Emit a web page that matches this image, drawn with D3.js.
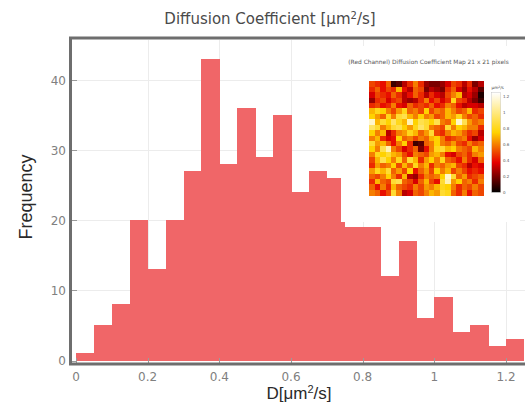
<!DOCTYPE html>
<html>
<head>
<meta charset="utf-8">
<script src="https://cdn.jsdelivr.net/npm/d3@7"></script>
<style>
  html, body { margin: 0; padding: 0; background: #fff; }
  svg { display: block; }
</style>
</head>
<body>
<svg id="chart" width="525" height="407"></svg>
<script>
// Histogram of per-pixel diffusion coefficients (bin width 0.05 µm²/s)
const binStarts = [0, 0.05, 0.1, 0.15, 0.2, 0.25, 0.3, 0.35, 0.4, 0.45, 0.5, 0.55,
                   0.6, 0.65, 0.7, 0.75, 0.8, 0.85, 0.9, 0.95, 1.0, 1.05, 1.1, 1.15, 1.2];
const binWidth = 0.05;
const counts = [1, 5, 8, 20, 13, 20, 27, 43, 28, 36, 29, 35,
                24, 27, 26, 19, 19, 12, 17, 6, 9, 4, 5, 2, 3];
const xTicks = [0, 0.2, 0.4, 0.6, 0.8, 1, 1.2];
const yTicks = [0, 10, 20, 30, 40];

// 21 x 21 diffusion coefficient map (µm²/s), rows top to bottom
const mapRows = [
  [0.50,0.45,0.40,0.55,0.10,0.15,0.30,0.45,0.60,0.45,0.25,0.20,0.20,0.25,0.35,0.50,0.45,0.30,0.45,0.20,0.30],
  [0.45,0.55,0.40,0.50,0.45,0.70,0.40,0.30,0.55,0.50,0.20,0.30,0.25,0.20,0.45,0.55,0.35,0.25,0.40,0.30,0.15],
  [0.35,0.50,0.45,0.40,0.55,0.45,0.30,0.40,0.55,0.45,0.30,0.45,0.35,0.30,0.50,0.60,0.70,0.30,0.35,0.25,0.05],
  [0.25,0.45,0.50,0.35,0.45,0.50,0.30,0.25,0.30,0.45,0.60,0.40,0.50,0.35,0.45,0.80,0.50,0.45,0.30,0.20,0.10],
  [0.45,0.50,0.40,0.45,0.60,0.40,0.35,0.55,0.45,0.50,0.45,0.55,0.40,0.45,0.60,0.55,0.40,0.30,0.35,0.35,0.30],
  [0.70,0.80,0.75,0.60,0.50,0.65,0.80,0.55,0.60,0.50,0.75,0.50,0.60,0.55,0.70,0.60,0.50,0.55,0.70,0.45,0.50],
  [0.75,0.65,0.55,0.80,0.60,0.85,0.90,0.70,0.60,0.75,0.60,0.65,0.50,0.55,0.70,0.65,0.80,0.60,0.50,0.55,0.45],
  [1.15,0.70,0.85,0.75,0.95,0.80,0.70,1.10,0.75,0.90,0.85,0.75,0.90,0.60,0.55,0.75,1.15,0.90,0.65,0.55,0.60],
  [0.95,0.85,0.60,0.70,0.85,0.90,0.75,0.65,0.80,0.95,0.85,0.60,0.55,0.50,0.85,0.60,0.75,0.70,0.60,0.60,0.45],
  [0.75,0.60,0.70,0.30,0.45,0.60,0.65,0.80,0.70,0.55,0.65,0.85,0.50,0.45,0.60,0.70,0.65,0.55,0.45,0.50,0.30],
  [0.60,0.70,0.45,0.35,0.40,0.75,0.55,0.60,0.50,0.60,0.55,0.70,0.75,0.60,0.45,0.50,0.55,0.60,0.40,0.25,0.35],
  [0.85,0.65,0.70,0.55,0.40,0.60,0.75,0.45,0.10,0.15,0.55,0.60,0.75,0.60,0.55,0.65,0.50,0.45,0.60,0.50,0.55],
  [0.75,0.60,0.90,1.10,0.60,0.50,0.35,0.45,0.55,0.20,0.40,0.60,0.80,0.85,0.70,0.75,0.60,0.55,0.50,0.70,0.60],
  [0.60,0.80,0.75,0.85,0.70,0.65,0.50,0.40,0.60,0.55,0.50,0.65,0.70,0.60,0.40,0.35,0.50,0.55,0.45,0.60,0.65],
  [0.50,0.70,0.90,0.75,0.60,0.80,0.55,0.85,0.70,0.45,0.65,0.75,0.60,0.80,0.55,0.50,0.40,0.60,0.45,0.35,0.55],
  [0.45,0.65,0.55,0.60,0.75,0.50,0.70,0.55,0.80,0.60,0.70,0.45,0.60,0.55,0.65,0.70,0.50,0.45,0.30,0.40,0.35],
  [0.65,0.80,0.70,0.85,0.55,0.65,0.50,0.75,0.40,0.55,0.65,0.50,0.75,0.60,0.70,0.50,0.60,0.50,0.40,0.45,0.40],
  [0.55,0.50,0.60,0.75,0.60,0.45,0.70,0.30,0.25,0.45,0.60,0.55,0.60,0.75,1.15,0.85,0.55,0.65,0.45,0.50,0.55],
  [0.45,0.70,0.55,0.50,0.85,0.90,0.55,0.50,0.35,0.55,0.70,0.50,0.40,0.85,1.10,0.65,0.75,0.55,0.60,0.45,0.60],
  [0.55,0.40,0.60,0.45,0.70,0.55,0.50,0.45,0.60,0.50,0.65,0.60,0.70,0.80,0.75,0.60,0.45,0.55,0.50,0.60,0.50],
  [0.60,0.55,0.40,0.50,0.85,0.60,0.30,0.35,0.55,0.50,0.60,0.70,0.65,0.85,0.80,0.55,0.45,0.60,0.40,0.55,0.50]
];
const colorbarTicks = [0, 0.2, 0.4, 0.6, 0.8, 1, 1.2];
const colorMax = 1.25;

const svg = d3.select("#chart");
const font = "'DejaVu Sans', Verdana, sans-serif";

// Main plot scales
const x = d3.scaleLinear().domain([0, 1.2]).range([76, 506]);
const y = d3.scaleLinear().domain([0, 40]).range([360.5, 80]);

// Grid
const grid = svg.append("g").attr("stroke", "#ececec").attr("stroke-width", 1);
grid.selectAll("line.v").data(xTicks.filter(d => d > 0)).join("line")
  .attr("x1", d => Math.round(x(d)) + 0.5).attr("x2", d => Math.round(x(d)) + 0.5)
  .attr("y1", 40).attr("y2", 361);
grid.selectAll("line.h").data(yTicks.filter(d => d > 0)).join("line")
  .attr("x1", 72).attr("x2", 525)
  .attr("y1", d => Math.round(y(d)) + 0.5).attr("y2", d => Math.round(y(d)) + 0.5);

// Histogram bars
svg.append("g").attr("shape-rendering", "crispEdges")
  .selectAll("rect").data(binStarts).join("rect")
  .attr("x", d => x(d))
  .attr("width", d => x(d + binWidth) - x(d) + 0.5)
  .attr("y", (d, i) => y(counts[i]))
  .attr("height", (d, i) => y(0) - y(counts[i]))
  .attr("fill", "#f06668");

// Tick marks
const ticks = svg.append("g").attr("stroke", "#9a9a9a").attr("stroke-width", 1);
ticks.selectAll("line.x").data(xTicks).join("line")
  .attr("x1", d => Math.round(x(d)) + 0.5).attr("x2", d => Math.round(x(d)) + 0.5)
  .attr("y1", 358).attr("y2", 363);
ticks.selectAll("line.y").data(yTicks).join("line")
  .attr("x1", 72).attr("x2", 77)
  .attr("y1", d => Math.round(y(d)) + 0.5).attr("y2", d => Math.round(y(d)) + 0.5);

// Frame
svg.append("rect")
  .attr("x", 70.5).attr("y", 38).attr("width", 480).attr("height", 326)
  .attr("fill", "none").attr("stroke", "#6e6e6e").attr("stroke-width", 3);

// Tick labels
svg.append("g").selectAll("text").data(xTicks).join("text")
  .attr("x", d => x(d)).attr("y", 381)
  .attr("text-anchor", "middle")
  .attr("font-family", font).attr("font-size", 12).attr("fill", "#808080")
  .text(d => d3.format("")(d));
svg.append("g").selectAll("text").data(yTicks).join("text")
  .attr("x", 66).attr("y", d => y(d) + 4.5)
  .attr("text-anchor", "end")
  .attr("font-family", font).attr("font-size", 12).attr("fill", "#808080")
  .text(d => d);

// Title
const title = svg.append("text")
  .attr("x", 270).attr("y", 24).attr("text-anchor", "middle")
  .attr("font-family", font).attr("font-size", 15).attr("fill", "#4a4a4a");
title.append("tspan").text("Diffusion Coefficient [μm");
title.append("tspan").attr("dy", -5).attr("font-size", 10).text("2");
title.append("tspan").attr("dy", 5).text("/s]");

// Axis titles
svg.append("text")
  .attr("transform", "translate(32,197) rotate(-90)")
  .attr("text-anchor", "middle")
  .attr("font-family", "'Liberation Sans', Arial, sans-serif")
  .attr("font-size", 18).attr("fill", "#2a2a2a")
  .text("Frequency");
const xt = svg.append("text")
  .attr("x", 299).attr("y", 399).attr("text-anchor", "middle")
  .attr("font-family", "'Liberation Sans', Arial, sans-serif")
  .attr("font-size", 17).attr("fill", "#2a2a2a");
xt.append("tspan").text("D[μm");
xt.append("tspan").attr("dy", -6).attr("font-size", 11).text("2");
xt.append("tspan").attr("dy", 6).text("/s]");

// Inset: pixel map of the red channel
const inset = svg.append("g");
inset.append("rect").attr("x", 341).attr("y", 46).attr("width", 179).attr("height", 176).attr("fill", "#fff");
inset.append("text")
  .attr("x", 428.5).attr("y", 63.5).attr("text-anchor", "middle")
  .attr("font-family", font).attr("font-size", 5.9).attr("fill", "#555")
  .text("(Red Channel) Diffusion Coefficient Map 21 x 21 pixels");

const hot = d3.scaleLinear()
  .domain([0, 0.3 * colorMax, 0.6 * colorMax, colorMax])
  .range(["rgb(0,0,0)", "rgb(230,0,0)", "rgb(255,210,0)", "rgb(255,255,255)"])
  .clamp(true);

const n = mapRows.length;
const mx = d3.scaleBand().domain(d3.range(n)).range([369.3, 483.3]);
const my = d3.scaleBand().domain(d3.range(n)).range([81.3, 195.3]);
const cells = mapRows.flatMap((row, r) => row.map((v, c) => ({ r, c, v })));
inset.append("g").attr("shape-rendering", "crispEdges").selectAll("rect").data(cells).join("rect")
  .attr("x", d => mx(d.c)).attr("y", d => my(d.r))
  .attr("width", mx.bandwidth() + 0.3).attr("height", my.bandwidth() + 0.3)
  .attr("fill", d => hot(d.v));

// Colorbar
const cb = d3.scaleLinear().domain([0, colorMax]).range([192.3, 92.7]);
const defs = svg.append("defs");
const grad = defs.append("linearGradient").attr("id", "hotGrad")
  .attr("x1", 0).attr("y1", 1).attr("x2", 0).attr("y2", 0);
d3.range(0, 1.0001, 0.05).forEach(t => {
  grad.append("stop").attr("offset", t).attr("stop-color", hot(t * colorMax));
});
inset.append("rect")
  .attr("x", 491.7).attr("y", cb(colorMax)).attr("width", 9).attr("height", cb(0) - cb(colorMax))
  .attr("fill", "url(#hotGrad)").attr("stroke", "#bbb").attr("stroke-width", 0.4);
inset.append("g").selectAll("text").data(colorbarTicks).join("text")
  .attr("x", 503).attr("y", d => cb(d) + 1.4)
  .attr("font-family", font).attr("font-size", 4).attr("fill", "#555")
  .text(d => d3.format("")(d));
const cbt = inset.append("text").attr("x", 491.5).attr("y", 89)
  .attr("font-family", font).attr("font-size", 4.2).attr("fill", "#444");
cbt.append("tspan").text("μm");
cbt.append("tspan").attr("dy", -1.5).attr("font-size", 3).text("2");
cbt.append("tspan").attr("dy", 1.5).text("/s");
</script>
</body>
</html>
